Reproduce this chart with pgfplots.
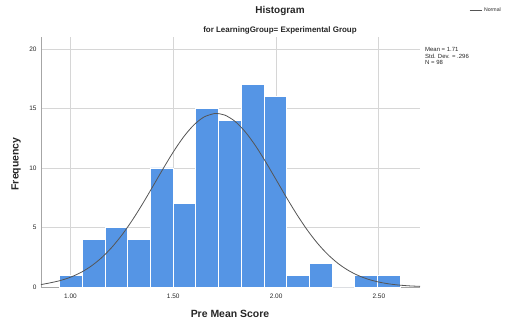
\documentclass[border=0pt]{standalone}
\usepackage{pgfplots}
\pgfplotsset{compat=1.18}
\usepackage{fontspec}
\setmainfont{Liberation Sans}

\definecolor{barblue}{HTML}{5595E5}
\definecolor{curvegray}{HTML}{555555}
\definecolor{gridgray}{HTML}{D6D6D6}
\definecolor{axisgray}{HTML}{A6A6A6}
\definecolor{txt}{HTML}{262626}

\begin{document}
\begin{tikzpicture}[x=1bp,y=1bp]
\useasboundingbox (0,0) rectangle (505,326);
\begin{axis}[
  at={(41bp,39bp)}, anchor=south west,
  scale only axis, width=379bp, height=250bp,
  xmin=0.857, xmax=2.70, ymin=0, ymax=21,
  axis x line*=bottom, axis y line*=left,
  axis line style={axisgray, line width=0.8bp, -},
  xtick={1,1.5,2,2.5}, xticklabels={1.00,1.50,2.00,2.50},
  ytick={0,5,10,15,20},
  major tick length=0pt,
  xmajorgrids, ymajorgrids,
  major grid style={gridgray, line width=0.8bp},
  /pgf/number format/assume math mode=true,
  tick label style={font=\fontsize{6.5}{7}\selectfont, text=txt},
  xticklabel style={yshift=-3bp},
  yticklabel style={xshift=-1bp},
  legend style={at={(1.2190,1.108)}, anchor=east, draw=none, fill=none,
    font=\fontsize{5.2}{6}\selectfont, text=txt, inner sep=0pt,
    legend cell align=left,
    /tikz/every even column/.append style={column sep=1bp}},
  legend image code/.code={\draw[curvegray, line width=0.8bp] (0bp,0bp) -- (12bp,0bp);},
  clip=false,
]
% histogram counts per bin (left edges, last point closes the final bin)
\addplot[ybar interval, fill=barblue, draw=white, line width=0.9bp, forget plot]
  coordinates {
  (0.9480,1) (1.0584,4) (1.1688,5) (1.2792,4) (1.3896,10)
  (1.5000,7) (1.6104,15) (1.7208,14) (1.8312,17) (1.9416,16)
  (2.0520,1) (2.1624,2) (2.2728,0) (2.3832,1) (2.4936,1)
  (2.6040,0)
  };
% fitted normal curve
\addplot[curvegray, line width=0.8bp, smooth] coordinates {
  (0.857,0.204) (0.90,0.345) (0.95,0.540) (1.00,0.821) (1.05,1.214)
  (1.10,1.744) (1.15,2.435) (1.20,3.305) (1.25,4.359) (1.30,5.587)
  (1.35,6.959) (1.40,8.425) (1.45,9.913) (1.50,11.336) (1.55,12.598)
  (1.60,13.607) (1.65,14.284) (1.70,14.572) (1.71,14.580) (1.75,14.447)
  (1.80,13.921) (1.85,13.037) (1.90,11.866) (1.95,10.495) (2.00,9.023)
  (2.05,7.538) (2.10,6.121) (2.15,4.830) (2.20,3.704) (2.25,2.761)
  (2.30,2.000) (2.35,1.408) (2.40,0.963) (2.45,0.641) (2.50,0.414)
  (2.55,0.260) (2.60,0.159) (2.65,0.094) (2.70,0.054)
};
\addlegendentry{Normal}
\node[anchor=north west, align=left, inner sep=0pt, text=txt,
      font=\fontsize{6}{6.6}\selectfont]
  at (rel axis cs:1.013,0.958) {Mean = 1.71\\Std. Dev. = .296\\N = 98};
\end{axis}
\node[font=\bfseries\fontsize{10}{12}\selectfont, text=txt] at (280,315) {Histogram};
\node[font=\bfseries\fontsize{8}{10}\selectfont, text=txt] at (280,296) {for LearningGroup= Experimental Group};
\node[font=\bfseries\fontsize{10.5}{12}\selectfont, text=txt] at (230,12) {Pre Mean Score};
\node[font=\bfseries\fontsize{10.5}{12}\selectfont, text=txt, rotate=90] at (16,162) {Frequency};
\end{tikzpicture}
\end{document}
